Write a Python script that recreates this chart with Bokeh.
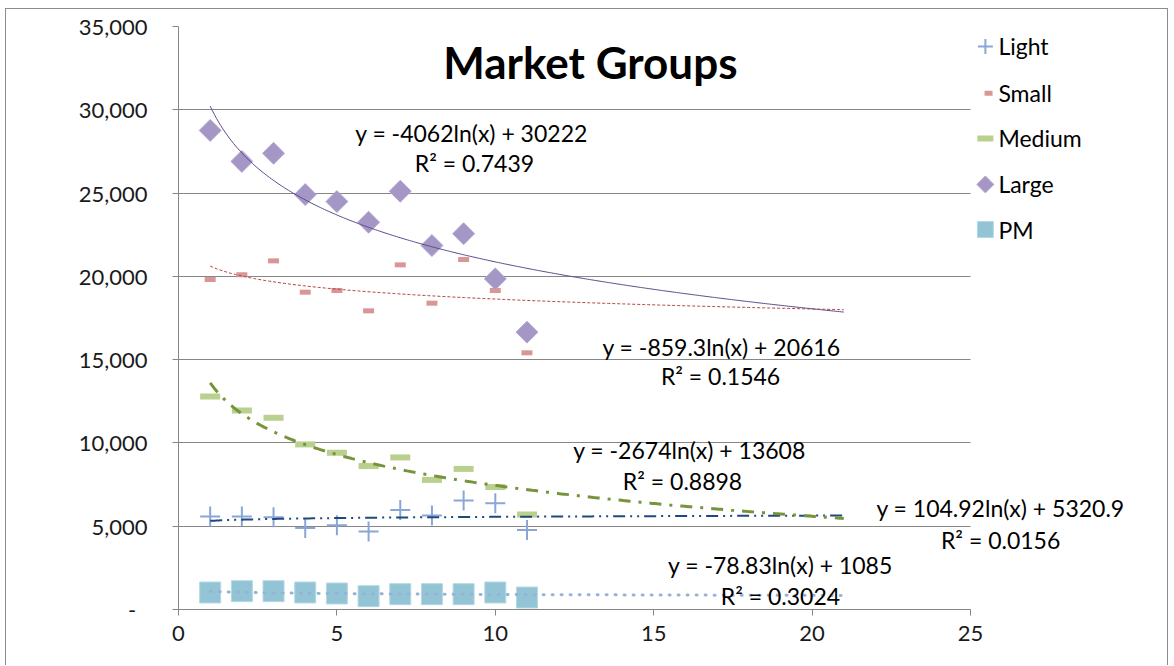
import numpy as np
from bokeh.plotting import figure
from bokeh.models import Range1d, Label, FixedTicker, CustomJSTickFormatter
from bokeh.embed import file_html
from bokeh.resources import INLINE

# ---------------- data ----------------
x_vals = [1, 2, 3, 4, 5, 6, 7, 8, 9, 10, 11]
light = [5580, 5580, 5540, 4900, 5060, 4680, 5980, 5640, 6540, 6380, 4780]
small = [19810, 20090, 20930, 19050, 19150, 17930, 20690, 18390, 21010, 19150, 15410]
medium = [12790, 11950, 11510, 9910, 9410, 8610, 9130, 7780, 8440, 7350, 5700]
large = [28760, 26900, 27390, 24910, 24490, 23250, 25110, 21850, 22560, 19850, 16650]
pm = [1020, 1100, 1100, 1020, 960, 800, 920, 920, 920, 1020, 720]

series_names = ["Light", "Small", "Medium", "Large", "PM"]
# logarithmic trendline coefficients (y = a ln(x) + b) and R² as shown
trend_a = [104.92, -859.3, -2674, -4062, -78.83]
trend_b = [5320.9, 20616, 13608, 30222, 1085]
trend_a_txt = ["104.92", "-859.3", "-2674", "-4062", "-78.83"]
trend_b_txt = ["5320.9", "20616", "13608", "30222", "1085"]
r2_txt = ["0.0156", "0.1546", "0.8898", "0.7439", "0.3024"]
trend_x_end = 21

x_ticks = [0, 5, 10, 15, 20, 25]
y_ticks = [0, 5000, 10000, 15000, 20000, 25000, 30000, 35000]
x_axis_max = 25
title_text = "Market Groups"

# ---------------- layout / style ----------------
FONT = "Lato"
W, H = 1163, 657
X_VIEW_END = 31.25   # frame extends right of the axis so texts/legend are not clipped

p = figure(width=W, height=H, output_backend="svg", toolbar_location=None,
           x_range=Range1d(0, X_VIEW_END), y_range=Range1d(0, 35000),
           min_border_left=172, min_border_right=1,
           min_border_top=17, min_border_bottom=57)
p.styles = {"margin-left": "5px", "margin-top": "8px",
            "border-left": "1px solid #8c8c8c", "border-top": "1px solid #8c8c8c",
            "border-right": "1px solid #8c8c8c"}
p.outline_line_color = None
p.background_fill_color = "white"
p.border_fill_color = "white"

p.xgrid.grid_line_color = None
p.ygrid.grid_line_color = "#868686"
p.ygrid.grid_line_width = 1
p.ygrid.ticker = FixedTicker(ticks=y_ticks)
p.ygrid.cross_bounds = (0, x_axis_max)

for ax in (p.xaxis[0], p.yaxis[0]):
    ax.axis_line_color = "#868686"
    ax.major_tick_line_color = "#868686"
    ax.minor_tick_line_color = None
    ax.major_tick_in = 0
    ax.major_tick_out = 6
    ax.major_label_text_font = FONT
    ax.major_label_text_font_size = "22px"
    ax.major_label_text_color = "#1a1a1a"

p.xaxis[0].ticker = FixedTicker(ticks=x_ticks)
p.xaxis[0].bounds = (0, x_axis_max)
p.xaxis[0].major_label_standoff = 10
p.yaxis[0].ticker = FixedTicker(ticks=y_ticks)
p.yaxis[0].major_label_standoff = 25
p.yaxis[0].formatter = CustomJSTickFormatter(code="""
    if (tick == 0) { return "-\u00a0\u00a0"; }
    return tick.toLocaleString('en-US');
""")

# marker styles per series (data markers, legend markers)
styles = [
    dict(marker="cross", line_width=2, line_color="#8aa6d8"),
    dict(marker="dash", line_width=5, line_color="#d99694"),
    dict(marker="dash", line_width=6, line_color="#b9d08f"),
    dict(marker="square", angle=np.pi / 4, fill_color="#a497c6",
         line_color="#b3a8d0", line_width=1),
    dict(marker="square", fill_color="#93c4d6", line_color="#b5d8e4", line_width=1),
]
data_sizes = [20, 11, 20, 15.5, 21]
legend_sizes = [15, 8, 16, 12, 16]
series_vals = [light, small, medium, large, pm]

for vals, st, sz in zip(series_vals, styles, data_sizes):
    p.scatter(x_vals, vals, size=sz, **st)

# trendlines computed from coefficients
tx = np.linspace(1, trend_x_end, 300)
trend_styles = [
    dict(line_color="#1f497d", line_width=2, line_dash="12 5 2 5 2 5"),
    dict(line_color="#b0413e", line_width=1, line_dash="3 2"),
    dict(line_color="#77933c", line_width=3, line_dash="12 8 3 8"),
    dict(line_color="#5f4b8b", line_width=1),
    dict(line_color="#95b3d7", line_width=3, line_dash="1 8", line_cap="round"),
]
for a, b, st in zip(trend_a, trend_b, trend_styles):
    p.line(tx, [a * np.log(v) + b for v in tx], **st)

# equation labels (positions in data coords)
eq_pos = [(25.95, 6064), (17.14, 15789), (16.13, 9546), (9.25, 28577), (19.0, 2642)]
r2_pos = [(25.95, 4202), (17.11, 13988), (15.91, 7685), (9.34, 26776), (19.0, 840)]
for i in range(5):
    eq = "y = %sln(x) + %s" % (trend_a_txt[i], trend_b_txt[i])
    p.add_layout(Label(x=eq_pos[i][0], y=eq_pos[i][1], text=eq,
                       text_align="center", text_baseline="middle",
                       text_font=FONT, text_font_size="23px", text_color="black"))
    p.add_layout(Label(x=r2_pos[i][0], y=r2_pos[i][1], text="R\u00b2 = " + r2_txt[i],
                       text_align="center", text_baseline="middle",
                       text_font=FONT, text_font_size="23px", text_color="black"))

# title inside plot
p.add_layout(Label(x=13.0, y=32839, text=title_text, text_align="center",
                   text_baseline="middle", text_font=FONT, text_font_size="44px",
                   text_font_style="bold", text_color="black"))

# legend (drawn to the right of the axis area)
leg_marker_x = [25.47, 25.57, 25.47, 25.47, 25.47]
leg_text_x = 25.88
leg_y = [33800, 31000, 28280, 25520, 22810]
for i in range(5):
    p.scatter([leg_marker_x[i]], [leg_y[i]], size=legend_sizes[i], **styles[i])
    p.add_layout(Label(x=leg_text_x, y=leg_y[i], text=series_names[i],
                       text_align="left", text_baseline="middle",
                       text_font=FONT, text_font_size="23px", text_color="black"))

open("out.html", "w").write(file_html(p, INLINE))
